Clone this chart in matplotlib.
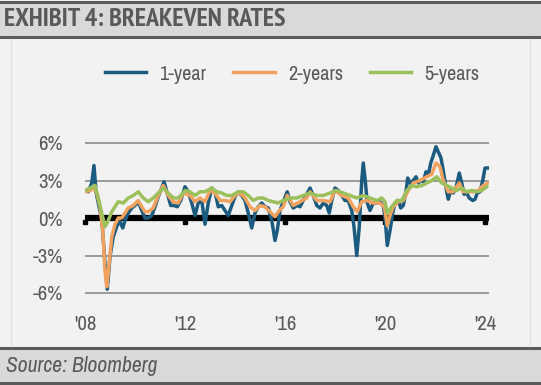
import matplotlib
matplotlib.use("Agg")
import matplotlib.pyplot as plt
from matplotlib import font_manager
from matplotlib.patches import Rectangle
from matplotlib.lines import Line2D

# use a narrow face when one is around, otherwise plain Liberation Sans at a smaller size
fl = font_manager.fontManager.ttflist
narrow = sorted({f.name for f in fl if "Narrow" in f.name})
narrow_bold = sorted({f.name for f in fl if "Narrow" in f.name
                      and str(f.weight) in ("bold", "700", "semibold", "600", "demibold", "800", "heavy")})
if narrow:
    plt.rcParams['font.family'] = [narrow[0], 'DejaVu Sans']
    scale = 1.15
else:
    plt.rcParams['font.family'] = ['Liberation Sans', 'DejaVu Sans']
    scale = 1.0
if narrow_bold:
    title_font, title_size = [narrow_bold[0], 'DejaVu Sans'], 18.7
else:
    title_font, title_size = ['Liberation Sans', 'DejaVu Sans'], 14

# data (decimal year, percent)
yr_1y = [2008.00, 2008.13, 2008.27, 2008.36, 2008.44, 2008.53, 2008.67, 2008.80, 2008.89, 2009.00,
         2009.13, 2009.27, 2009.37, 2009.51, 2009.60, 2009.73, 2009.87, 2010.00, 2010.13, 2010.27,
         2010.40, 2010.53, 2010.67, 2010.80, 2010.93, 2011.07, 2011.16, 2011.29, 2011.43, 2011.56,
         2011.69, 2011.83, 2012.00, 2012.13, 2012.27, 2012.40, 2012.53, 2012.67, 2012.80, 2012.93,
         2013.07, 2013.20, 2013.33, 2013.47, 2013.60, 2013.73, 2013.87, 2014.00, 2014.13, 2014.27,
         2014.40, 2014.53, 2014.67, 2014.80, 2014.93, 2015.07, 2015.20, 2015.33, 2015.47, 2015.60,
         2015.69, 2015.80, 2015.93, 2016.09, 2016.20, 2016.33, 2016.47, 2016.60, 2016.73, 2016.87,
         2017.00, 2017.13, 2017.27, 2017.40, 2017.53, 2017.67, 2017.77, 2017.87, 2018.00, 2018.13,
         2018.27, 2018.40, 2018.53, 2018.67, 2018.76, 2018.87, 2018.97, 2019.07, 2019.13, 2019.21,
         2019.29, 2019.40, 2019.53, 2019.67, 2019.80, 2019.93, 2020.00, 2020.09, 2020.20, 2020.31,
         2020.40, 2020.53, 2020.63, 2020.73, 2020.84, 2020.91, 2021.00, 2021.13, 2021.24, 2021.33,
         2021.43, 2021.53, 2021.64, 2021.73, 2021.83, 2021.93, 2022.04, 2022.13, 2022.24, 2022.33,
         2022.43, 2022.53, 2022.63, 2022.73, 2022.84, 2022.97, 2023.07, 2023.16, 2023.27, 2023.37,
         2023.51, 2023.60, 2023.69, 2023.80, 2023.91, 2024.00, 2024.13]
val_1y = [2.2, 2.1, 2.8, 4.2, 2.1, 1.2, -0.1, -3.6, -5.7, -3.1,
          -1.5, -0.7, -0.2, -0.8, -0.2, 0.4, 0.8, 1.0, 1.3, 0.6,
          0.0, 0.0, 0.2, 0.9, 1.7, 2.4, 2.9, 2.0, 1.0, 1.0,
          0.9, 1.4, 2.5, 2.1, 1.2, 0.2, 1.2, 1.4, -0.5, 1.2,
          2.4, 2.1, 0.9, 1.0, 0.6, 0.2, 1.0, 1.7, 2.1, 1.8,
          1.4, 0.4, -0.8, 0.4, 0.9, 1.2, 0.9, 0.8, -0.2, -1.8,
          -1.0, 0.6, 1.3, 2.1, 1.3, 0.8, 1.0, 0.9, 1.4, 1.9,
          2.4, 1.8, 1.0, 0.8, 1.2, 1.0, 0.4, 1.4, 2.4, 2.2,
          1.8, 1.4, 1.4, 0.6, -0.7, -3.0, -0.7, 3.0, 4.4, 3.0,
          1.2, 0.6, 1.2, 1.2, 1.3, 1.0, 0.1, -2.2, -1.0, 0.4,
          1.2, 1.4, 0.8, 1.0, 2.1, 3.2, 2.8, 3.0, 3.3, 2.8,
          3.0, 2.9, 3.7, 3.4, 4.4, 5.0, 5.7, 5.3, 4.8, 3.8,
          2.5, 1.5, 2.2, 2.0, 2.4, 3.6, 2.8, 1.9, 2.0, 1.6,
          1.4, 1.5, 2.0, 2.1, 3.0, 4.0, 4.0]

yr_2y = [2008.00, 2008.20, 2008.33, 2008.47, 2008.60, 2008.71, 2008.80, 2008.87, 2008.97, 2009.07,
         2009.20, 2009.33, 2009.47, 2009.60, 2009.73, 2009.93, 2010.13, 2010.27, 2010.40, 2010.53,
         2010.73, 2010.93, 2011.13, 2011.33, 2011.53, 2011.73, 2011.93, 2012.20, 2012.40, 2012.60,
         2012.80, 2013.00, 2013.20, 2013.40, 2013.60, 2013.80, 2014.00, 2014.20, 2014.40, 2014.60,
         2014.80, 2015.00, 2015.20, 2015.40, 2015.60, 2015.73, 2015.93, 2016.09, 2016.33, 2016.60,
         2016.87, 2017.00, 2017.27, 2017.53, 2017.80, 2018.00, 2018.27, 2018.53, 2018.73, 2018.89,
         2019.07, 2019.27, 2019.53, 2019.80, 2019.96, 2020.00, 2020.09, 2020.20, 2020.33, 2020.53,
         2020.73, 2020.93, 2021.13, 2021.40, 2021.67, 2021.87, 2022.04, 2022.20, 2022.33, 2022.53,
         2022.73, 2022.97, 2023.13, 2023.33, 2023.53, 2023.73, 2023.93, 2024.13]
val_2y = [2.1, 2.2, 2.4, 2.0, 0.9, -1.0, -4.2, -5.5, -3.6, -1.5,
          -0.5, 0.0, 0.0, 0.4, 0.8, 1.0, 1.4, 0.9, 0.5, 0.5,
          0.8, 1.8, 2.6, 1.8, 1.3, 1.2, 2.0, 1.8, 1.3, 1.6,
          1.3, 2.2, 2.0, 1.4, 1.4, 1.3, 1.8, 2.0, 1.6, 0.9,
          0.6, 1.0, 0.9, 0.5, 0.1, 0.5, 0.9, 1.8, 1.0, 1.3,
          1.6, 2.1, 1.4, 1.4, 1.3, 2.2, 1.8, 1.6, 0.9, 0.5,
          1.3, 1.4, 1.2, 1.2, 0.9, 0.6, -0.6, 0.2, 0.9, 1.3,
          1.4, 2.2, 2.8, 3.0, 3.3, 3.5, 4.4, 4.1, 3.0, 2.1,
          2.1, 2.8, 2.1, 2.1, 2.1, 2.2, 2.6, 2.8]

yr_5y = [2008.00, 2008.20, 2008.40, 2008.53, 2008.67, 2008.80, 2008.93, 2009.07, 2009.20, 2009.33,
         2009.53, 2009.73, 2009.93, 2010.13, 2010.33, 2010.53, 2010.73, 2010.93, 2011.13, 2011.33,
         2011.53, 2011.73, 2011.93, 2012.00, 2012.20, 2012.40, 2012.60, 2012.80, 2013.07, 2013.27,
         2013.47, 2013.67, 2013.87, 2014.13, 2014.33, 2014.53, 2014.73, 2014.93, 2015.13, 2015.33,
         2015.53, 2015.73, 2015.93, 2016.20, 2016.47, 2016.73, 2017.00, 2017.27, 2017.53, 2017.80,
         2018.07, 2018.33, 2018.60, 2018.87, 2019.13, 2019.40, 2019.67, 2019.87, 2020.00, 2020.09,
         2020.27, 2020.47, 2020.67, 2020.87, 2021.07, 2021.27, 2021.47, 2021.67, 2021.87, 2022.07,
         2022.27, 2022.47, 2022.67, 2022.87, 2023.07, 2023.27, 2023.47, 2023.67, 2023.87, 2024.07]
val_5y = [2.2, 2.4, 2.6, 1.6, 0.4, -0.7, -0.2, 0.5, 0.9, 1.3,
          1.2, 1.6, 1.8, 2.1, 1.6, 1.3, 1.6, 2.0, 2.4, 2.0,
          1.6, 1.6, 2.0, 2.2, 2.1, 1.8, 2.1, 2.1, 2.4, 2.1,
          2.0, 1.8, 1.8, 2.1, 2.1, 1.8, 1.4, 1.6, 1.6, 1.4,
          1.3, 1.2, 1.4, 1.6, 1.6, 1.8, 2.0, 1.8, 1.8, 2.0,
          2.2, 2.0, 1.8, 1.6, 1.8, 1.6, 1.4, 1.6, 1.3, 0.4,
          0.9, 1.4, 1.4, 2.2, 2.6, 2.5, 2.6, 2.8, 3.0, 3.3,
          2.8, 2.6, 2.4, 2.2, 2.4, 2.1, 2.2, 2.1, 2.2, 2.5]

x_ticks = [2008, 2012, 2016, 2020, 2024]
x_labels = ["'08", "'12", "'16", "'20", "'24"]
y_ticks = [-6, -3, 0, 3, 6]
y_labels = ["-6%", "-3%", "0%", "3%", "6%"]

title = "EXHIBIT 4: BREAKEVEN RATES"
source = "Source: Bloomberg"

c_blue = "#1c5b80"
c_orange = "#f2a25f"
c_green = "#9cc05b"
c_text = "#595959"

W, H = 541, 385
fig = plt.figure(figsize=(W / 100, H / 100), dpi=100, facecolor="#f2f2f2")

# header / footer bands
def band(y0, y1):
    fig.patches.append(Rectangle((0, 1 - y1 / H), 1, (y1 - y0) / H, transform=fig.transFigure,
                                 facecolor="#d9d9d9", edgecolor="none", zorder=0))
    for yy in (y0, y1):
        fig.add_artist(Line2D([0, 1], [1 - yy / H, 1 - yy / H], transform=fig.transFigure,
                              color="#5a5a5a", lw=2.2))

band(2, 37)
band(348, 383)
# faint panel edges
for xx in (11, 530):
    fig.add_artist(Line2D([xx / W, xx / W], [1 - 346 / H, 1 - 39 / H], transform=fig.transFigure,
                          color="#e2e2e2", lw=1))

fig.text(4 / W, 1 - 20 / H, title, fontsize=title_size, fontweight="bold", color=c_text,
         va="center", ha="left", family=title_font)
fig.text(6 / W, 1 - 366 / H, source, fontsize=15.5, style="italic", color=c_text,
         va="center", ha="left")

ax = fig.add_axes([85 / W, 1 - 295.5 / H, (489 - 85) / W, 155 / H])
ax.set_facecolor("none")
ax.set_xlim(2008, 2024.16)
ax.set_ylim(-6.2, 6.2)

for v in y_ticks:
    if v != 0:
        ax.axhline(v, color="#9a9a9a", lw=1.4, zorder=1)
ax.axhline(0, color="black", lw=4.5, zorder=2, solid_capstyle="butt")
ax.plot(x_ticks, [-0.35] * len(x_ticks), "s", color="black", ms=3.5, zorder=2, clip_on=False)

ax.plot(yr_1y, val_1y, color=c_blue, lw=2.5, zorder=3, label="1-year")
ax.plot(yr_2y, val_2y, color=c_orange, lw=2.5, zorder=4, label="2-years")
ax.plot(yr_5y, val_5y, color=c_green, lw=2.5, zorder=5, label="5-years")

ax.set_xticks(x_ticks)
ax.set_xticklabels(x_labels)
ax.set_yticks(y_ticks)
ax.set_yticklabels(y_labels)
ax.tick_params(length=0, labelsize=13 * scale, labelcolor=c_text)
ax.tick_params(axis="x", pad=14)
ax.tick_params(axis="y", pad=16)
for s in ax.spines.values():
    s.set_visible(False)

fig.legend(loc="center", bbox_to_anchor=(0.54, 1 - 74 / H), ncol=3, frameon=False,
           fontsize=14.5, labelcolor=c_text, handlelength=2.05, columnspacing=1.35,
           handletextpad=0.65)

fig.savefig("out.png", dpi=100, facecolor=fig.get_facecolor())
